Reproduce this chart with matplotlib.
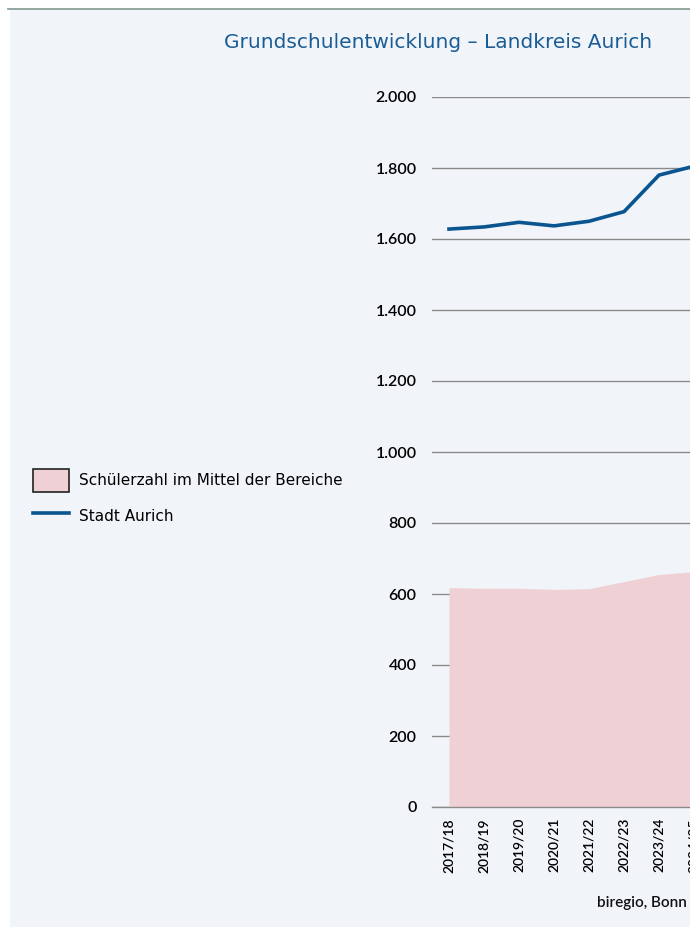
import matplotlib.pyplot as plt
from matplotlib.patches import Patch, Rectangle
from matplotlib.lines import Line2D
from matplotlib.ticker import FuncFormatter

# data
jahre = ["2017/18", "2018/19", "2019/20", "2020/21", "2021/22", "2022/23", "2023/24", "2024/25"]
mittel_bereiche = [618, 616, 616, 613, 615, 635, 655, 663]
stadt_aurich = [1628, 1634, 1647, 1637, 1650, 1677, 1780, 1805]

bg = "#f1f5f9"
pink = "#efd0d5"
blau = "#0a5590"

W, H = 690, 927
fig = plt.figure(figsize=(W / 100, H / 100), dpi=100)
fig.patch.set_facecolor("white")

# light panel + thin top rule
fig.patches.append(Rectangle((10 / W, 0), 1 - 10 / W, 1 - 9 / H, transform=fig.transFigure,
                             facecolor=bg, edgecolor="none", zorder=-2))
fig.add_artist(Line2D([8 / W, 1], [1 - 9 / H, 1 - 9 / H], transform=fig.transFigure,
                      color="#7f9a8e", lw=1.2))

# axes runs past the right edge of the picture (cut off like the original)
x0, step = 432, 35
xmin, xmax = -17 / step, 7.5
left = x0 / W
width = (xmax - xmin) * step / W
bottom = (H - 807) / H
height = 710 / H
ax = fig.add_axes([left, bottom, width, height])
ax.set_facecolor("none")

x = list(range(len(jahre)))
ax.fill_between(x, 0, mittel_bereiche, color=pink, lw=0, zorder=1)
ax.plot(x, stadt_aurich, color=blau, lw=2.6, zorder=3, solid_joinstyle="round")

ax.set_xlim(xmin, xmax)
ax.set_ylim(0, 2000)
ax.set_yticks(range(0, 2001, 200))
ax.yaxis.set_major_formatter(FuncFormatter(lambda v, p: f"{int(v):,}".replace(",", ".")))
ax.grid(axis="y", color="#8a8a8a", lw=1, zorder=0)
ax.set_axisbelow(True)
for s in ax.spines.values():
    s.set_visible(False)
ax.spines["bottom"].set_visible(True)
ax.spines["bottom"].set_color("#8a8a8a")
ax.spines["bottom"].set_linewidth(1)
ax.spines["bottom"].set_zorder(4)

ax.set_xticks(x)
ax.set_xticklabels(jahre, rotation=90, fontsize=10, fontweight="semibold", family="Lato")
ax.tick_params(axis="x", length=0, pad=8)
ax.tick_params(axis="y", length=0, pad=11, labelsize=11.5)
for t in ax.get_yticklabels():
    t.set_family("Lato")
    t.set_fontweight("semibold")

fig.text(438 / W, 1 - 42 / H, "Grundschulentwicklung – Landkreis Aurich", ha="center", va="center",
         fontsize=14.5, color="#1a5c96", family="DejaVu Sans")

handles = [Patch(facecolor=pink, edgecolor="#222222", lw=1.2),
           Line2D([0], [0], color=blau, lw=2.6)]
fig.legend(handles, ["Schülerzahl im Mittel der Bereiche", "Stadt Aurich"],
           loc="upper left", bbox_to_anchor=(19 / W, 1 - 455 / H), frameon=False,
           handlelength=2.35, handleheight=2.0, labelspacing=0.8,
           handletextpad=0.65, prop={"family": "DejaVu Sans", "size": 11})

fig.text(597 / W, 1 - 903 / H, "biregio, Bonn", ha="left", va="center", fontsize=11,
         family="Lato", fontweight="semibold", color="#111111")

fig.savefig("out.png", dpi=100, facecolor=fig.get_facecolor())
